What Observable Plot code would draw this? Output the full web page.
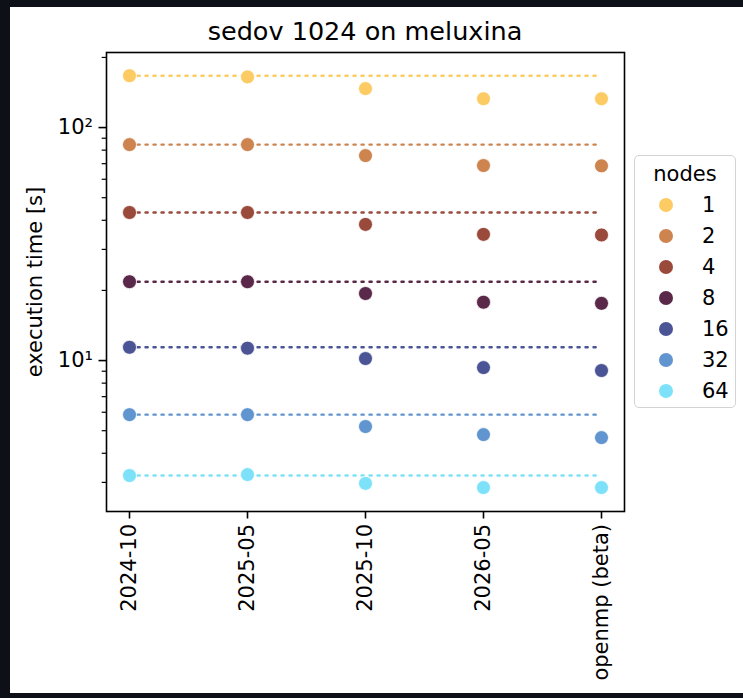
<!DOCTYPE html>
<html>
<head>
<meta charset="utf-8">
<script src="https://cdn.jsdelivr.net/npm/d3@7"></script>
<script src="https://cdn.jsdelivr.net/npm/@observablehq/plot@0.6"></script>
<style>
  html, body { margin: 0; padding: 0; width: 743px; height: 698px; overflow: hidden; background: #0d1117; }
  #frame { position: absolute; left: 10px; top: 7px; width: 733px; height: 686px; background: #ffffff; }
  #chart { position: absolute; left: 0; top: 0; }
  #title { position: absolute; left: 106px; width: 518px; top: 15px; line-height: 32px; text-align: center;
           font-family: "DejaVu Sans", sans-serif; font-size: 25.5px; color: #000; }
  #legend { position: absolute; left: 634px; top: 155px; width: 102px; height: 253px; box-sizing: border-box;
            border: 1.5px solid #d3d3d3; border-radius: 5px; background: #fff;
            font-family: "DejaVu Sans", sans-serif; font-size: 21px; color: #000; }
  .ltitle { position: absolute; left: 0; width: 100%; top: 4px; text-align: center; line-height: 28px; }
  .litem { position: absolute; left: 0; width: 100%; height: 28px; line-height: 28px; }
  .lsw { position: absolute; left: 24px; top: 7px; width: 14px; height: 14px; border-radius: 50%; }
  .llab { position: absolute; left: 67px; top: 0; }
</style>
</head>
<body>
<div id="frame"></div>
<div id="chart"></div>
<div id="title">sedov 1024 on meluxina</div>
<div id="legend"></div>
<script>
// ---- data ----
const versions = ["2024-10", "2025-05", "2025-10", "2026-05", "openmp (beta)"];
const nodes = [1, 2, 4, 8, 16, 32, 64];
const colors = ["#fdcb63", "#cd844f", "#9a4a3b", "#5a2849", "#4b5494", "#6195cf", "#7de2f9"];
const t1  = [167, 165, 147, 133, 133];
const t2  = [84.5, 84.5, 75.8, 68.7, 68.5];
const t4  = [43.2, 43.2, 38.4, 34.8, 34.6];
const t8  = [21.8, 21.8, 19.4, 17.8, 17.6];
const t16 = [11.4, 11.3, 10.2, 9.33, 9.06];
const t32 = [5.86, 5.86, 5.21, 4.81, 4.67];
const t64 = [3.21, 3.24, 2.97, 2.85, 2.85];
const majorTicks = [10, 100];
const majorLabels = ["10¹", "10²"];
const minorTicks = [3, 4, 5, 6, 7, 8, 9, 20, 30, 40, 50, 60, 70, 80, 90, 200];
const series = [t1, t2, t4, t8, t16, t32, t64];

// ---- tables ----
const rows = [];
const baseRows = [];
nodes.forEach((n, i) => {
  versions.forEach((v, j) => {
    rows.push({nodes: String(n), version: v, time: series[i][j]});
    baseRows.push({nodes: String(n), version: v, time: series[i][0]});
  });
});

const chart = Plot.plot({
  width: 743,
  height: 698,
  marginLeft: 106,
  marginRight: 119,
  marginTop: 52,
  marginBottom: 187,
  style: {background: "transparent", fontFamily: "DejaVu Sans, sans-serif", fontSize: "21px", color: "#000", overflow: "visible"},
  x: {type: "point", domain: versions, padding: 0, insetLeft: 22, insetRight: 23},
  y: {type: "log", domain: [2.25, 210]},
  color: {domain: nodes.map(String), range: colors},
  marks: [
    Plot.lineY(baseRows, {x: "version", y: "time", z: "nodes", stroke: "nodes", strokeWidth: 2.4, strokeDasharray: "2.2,5.8"}),
    Plot.dot(rows, {x: "version", y: "time", fill: "nodes", r: 7, stroke: "white", strokeWidth: 0.8}),
    Plot.frame({stroke: "#000", strokeWidth: 1.6}),
    Plot.axisX({tickRotate: -90, tickSize: 7.5, tickPadding: 5, strokeWidth: 1.6, label: null, fontSize: 21}),
    Plot.axisY({ticks: majorTicks, tickFormat: (d) => majorLabels[majorTicks.indexOf(d)], tickSize: 7.5, tickPadding: 6, strokeWidth: 1.6,
                fontSize: 21, label: "execution time [s]", labelAnchor: "center", labelOffset: 79, labelArrow: "none"}),
    Plot.axisY({ticks: minorTicks, tickSize: 4.3, strokeWidth: 1.2, text: null, label: null})
  ]
});
document.getElementById("chart").appendChild(chart);

// ---- legend ----
const legend = document.getElementById("legend");
const lt = document.createElement("div");
lt.className = "ltitle";
lt.textContent = "nodes";
legend.appendChild(lt);
nodes.forEach((n, i) => {
  const item = document.createElement("div");
  item.className = "litem";
  item.style.top = (35 + i * 31) + "px";
  const sw = document.createElement("span");
  sw.className = "lsw";
  sw.style.background = colors[i];
  const lab = document.createElement("span");
  lab.className = "llab";
  lab.textContent = String(n);
  item.appendChild(sw);
  item.appendChild(lab);
  legend.appendChild(item);
});
</script>
</body>
</html>
